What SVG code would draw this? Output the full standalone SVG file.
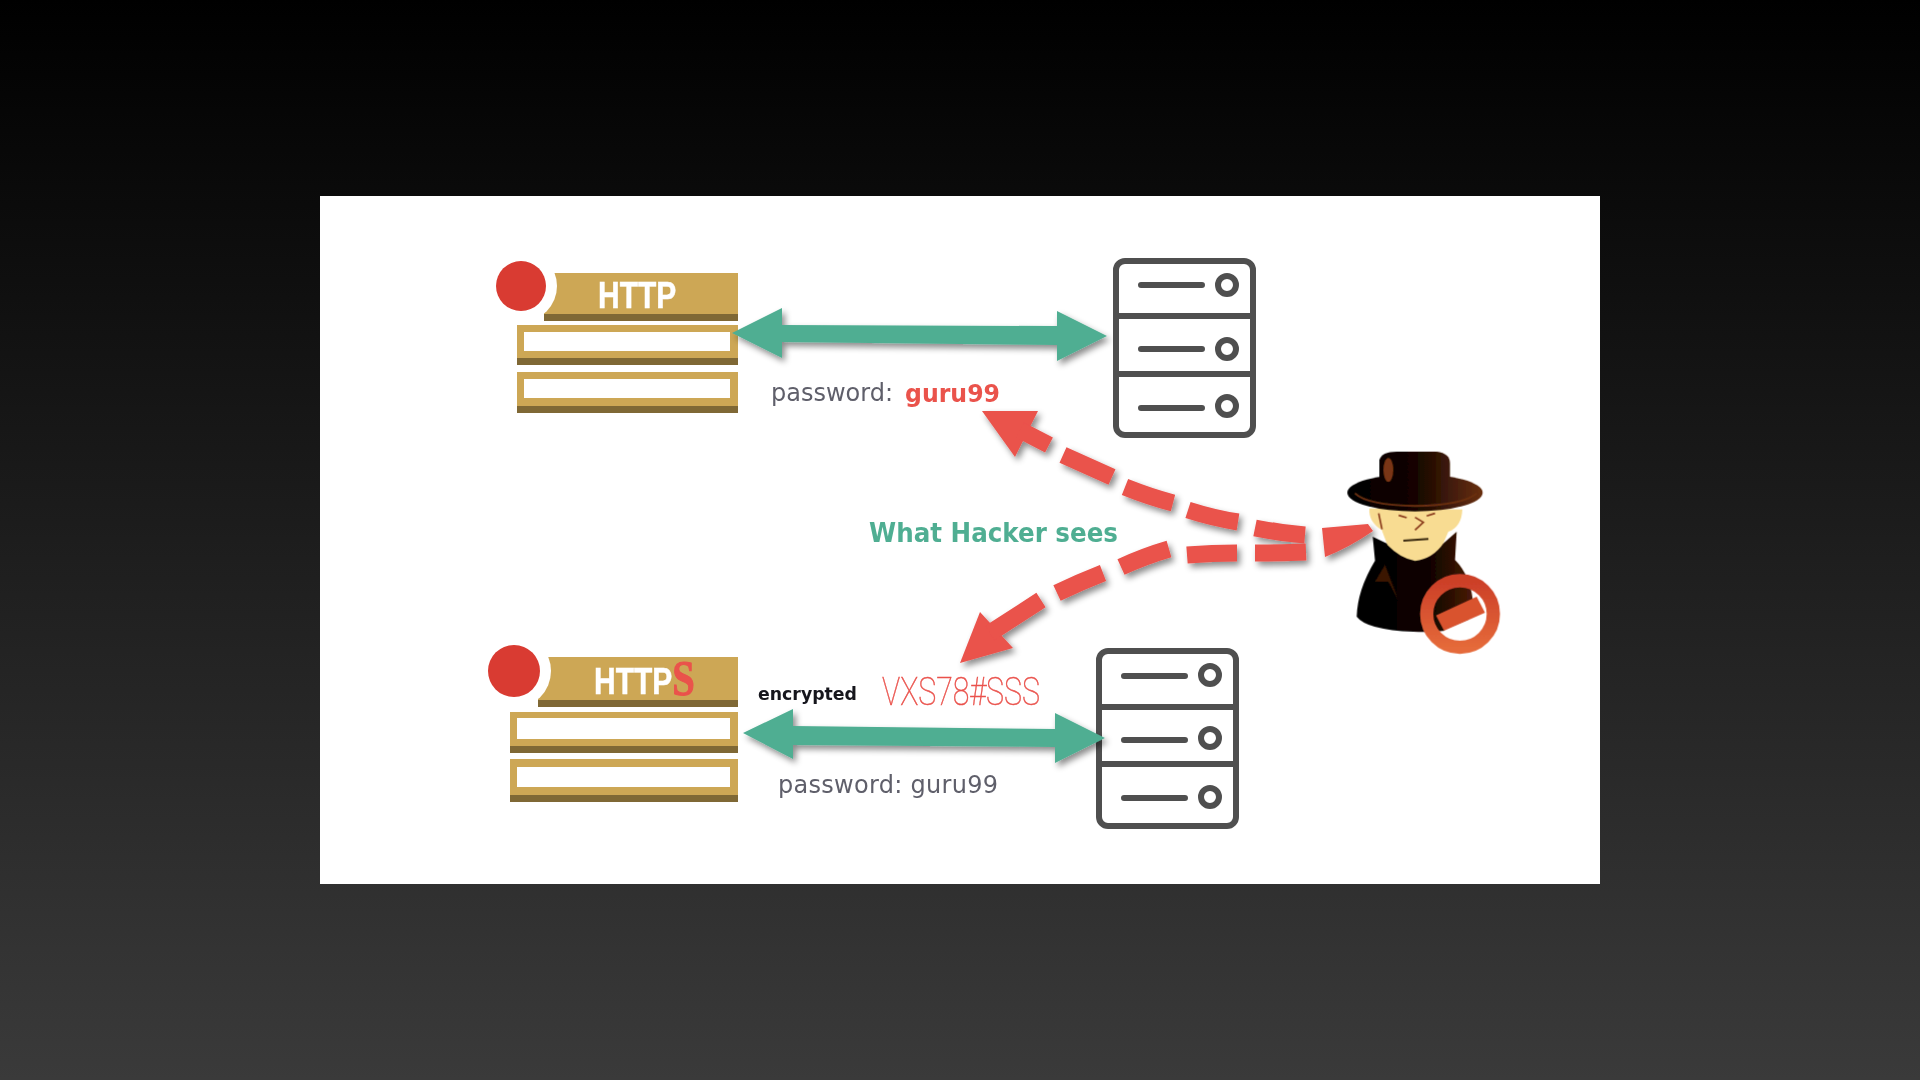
<svg xmlns="http://www.w3.org/2000/svg" width="1920" height="1080" viewBox="0 0 1920 1080">
<style>
.gold{fill:#cda755}.dark{fill:#7f6735}.hole{fill:#fff}.dot{fill:#d93a31}.halo{fill:#fff}
.srv{fill:none;stroke:#505050;stroke-width:6;stroke-linecap:round}
.tt{font-family:"Liberation Sans",Arial,sans-serif;font-weight:700;fill:#fff;stroke:#fff;stroke-width:.5;font-size:37px}
.pw{font-family:"DejaVu Sans",sans-serif;font-size:24px;fill:#5f5f6a}
.ga{fill:#4fae92;filter:url(#sh)}
.ra{fill:#ea524c}
.rd{fill:none;stroke:#ea524c;stroke-width:17}
</style>
<defs>
<linearGradient id="bg" x1="0" y1="0" x2="0" y2="1"><stop offset="0" stop-color="#000"/><stop offset="1" stop-color="#3a3a3a"/></linearGradient>
<linearGradient id="hat" gradientUnits="userSpaceOnUse" x1="140" y1="0" x2="550" y2="0"><stop offset="0" stop-color="#000"/><stop offset=".5" stop-color="#140500"/><stop offset="1" stop-color="#6a3012"/></linearGradient>
<linearGradient id="coat" x1="0" y1="0" x2="1" y2="0"><stop offset="0" stop-color="#000"/><stop offset=".6" stop-color="#0c0200"/><stop offset="1" stop-color="#4a1c08"/></linearGradient>
<linearGradient id="ring" x1="0" y1="0" x2="0" y2="1"><stop offset="0" stop-color="#cc3f28"/><stop offset="1" stop-color="#e56a3a"/></linearGradient>
<filter id="sh" x="-10%" y="-30%" width="120%" height="170%"><feDropShadow dx="3" dy="4" stdDeviation="3" flood-color="#000" flood-opacity=".45"/></filter>
<filter id="soft" filterUnits="userSpaceOnUse" x="320" y="196" width="1280" height="688"><feGaussianBlur stdDeviation=".55"/></filter>
</defs>
<rect width="1920" height="1080" fill="url(#bg)"/>
<rect x="320" y="196" width="1280" height="688" fill="#fff"/>
<g filter="url(#soft)">
<g id="http-stack">
<rect class="gold" x="544" y="273" width="194" height="42"/><rect class="dark" x="544" y="314" width="194" height="7"/>
<circle class="halo" cx="521" cy="286" r="36"/><circle class="dot" cx="521" cy="286" r="25"/>
<text class="tt" transform="matrix(.81 0 0 1 598 308)">HTTP</text>
<rect class="gold" x="517" y="325" width="221" height="34"/><rect class="dark" x="517" y="358" width="221" height="7"/><rect class="hole" x="524" y="332" width="206" height="19"/>
<rect class="gold" x="517" y="372" width="221" height="35"/><rect class="dark" x="517" y="406" width="221" height="7"/><rect class="hole" x="524" y="379" width="206" height="19"/>
</g>
<g id="https-stack">
<rect class="gold" x="538" y="657" width="200" height="44"/><rect class="dark" x="538" y="700" width="200" height="7"/>
<circle class="halo" cx="514" cy="671" r="37"/><circle class="dot" cx="514" cy="671" r="26"/>
<text class="tt" transform="matrix(.81 0 0 1 594 694)">HTTP<tspan dy="1" style="font-family:'Liberation Serif',serif;font-size:50px;fill:#ea524c;stroke:#ea524c;stroke-width:1">S</tspan></text>
<rect class="gold" x="510" y="712" width="228" height="35"/><rect class="dark" x="510" y="746" width="228" height="7"/><rect class="hole" x="517" y="718" width="213" height="21"/>
<rect class="gold" x="510" y="759" width="228" height="37"/><rect class="dark" x="510" y="795" width="228" height="7"/><rect class="hole" x="517" y="767" width="213" height="20"/>
</g>
<g id="server-top" class="srv">
<rect x="1116" y="261" width="137" height="174" rx="9"/>
<path d="M1116 316H1253M1116 374H1253M1141 285H1202M1141 349H1202M1141 408H1202"/>
<circle cx="1227" cy="285" r="9"/><circle cx="1227" cy="349" r="9"/><circle cx="1227" cy="406" r="9"/>
</g>
<g id="server-bottom" class="srv">
<rect x="1099" y="651" width="137" height="175" rx="9"/>
<path d="M1099 707H1236M1099 764H1236M1124 676H1185M1124 740H1185M1124 798H1185"/>
<circle cx="1210" cy="675" r="9"/><circle cx="1210" cy="738" r="9"/><circle cx="1210" cy="797" r="9"/>
</g>
<g id="connectors">
<path class="ga" d="M732 333L782 308V325L1057 326V311L1107 336L1057 361V345L782 342V358Z"/>
<path class="ga" d="M743 733L793 709V726L1055 729V713L1105 738L1055 763V747L793 745V759Z"/>
<g filter="url(#sh)">
<path class="ra" d="M982 411H1038L1015 457Z"/>
<path class="rd" d="M1020 430L1049 445M1063 455L1112 477M1125 487Q1150 497 1173 503M1188 510Q1213 518 1238 522M1255 528Q1280 533 1305 535"/>
<path class="ra" d="M960 663L980 612L1013 648Z"/>
<path class="rd" d="M990 633L1041 600M1057 593Q1080 582 1103 573M1121 567Q1145 556 1169 549M1187 555Q1212 553 1237 553M1255 553Q1280 553 1306 552"/>
<path class="ra" d="M1322 528L1368 524L1373 531Q1350 547 1325 557Z"/>
</g>
</g>
<g id="labels">
<text class="pw" x="771" y="401">password:</text>
<text x="905" y="402" textLength="95" lengthAdjust="spacingAndGlyphs" style="font-family:'DejaVu Sans',sans-serif;font-weight:700;font-size:25px;fill:#ea524c">guru99</text>
<text x="869" y="542" textLength="249" lengthAdjust="spacingAndGlyphs" style="font-family:'DejaVu Sans',sans-serif;font-weight:700;font-size:27px;fill:#4fae92">What Hacker sees</text>
<text x="758" y="700" textLength="99" lengthAdjust="spacingAndGlyphs" style="font-family:'DejaVu Sans',sans-serif;font-weight:700;font-size:17px;fill:#14141c">encrypted</text>
<text x="882" y="705" textLength="158" lengthAdjust="spacingAndGlyphs" stroke="#ea524c" stroke-width=".5" style="font-family:Roboto,sans-serif;font-weight:100;font-size:38px;fill:#ea524c">VXS78#SSS</text>
<text class="pw" x="778" y="793" textLength="220">password: guru99</text>
</g>
<g id="hacker" transform="translate(1300 430) scale(.3333)">
<path fill="url(#coat)" d="M170 560Q172 480 225 392L218 320L260 340L345 340L430 340L470 305L465 390Q515 440 520 530L500 590Q420 610 340 605Q200 600 170 560Z"/>
<path fill="#f8dc92" d="M208 235Q205 275 245 300L262 345Q300 385 345 393Q400 385 430 340L445 305Q485 290 487 238Z"/>
<path fill="#3a1605" d="M255 405L225 455H265L295 510Z"/>
<path fill="none" stroke="#8a3a1c" stroke-width="5" d="M236 250L246 298M296 256L320 263M380 258L405 250M345 262L370 277L345 300"/>
<path fill="none" stroke="#3a2a10" stroke-width="6" d="M310 332L385 327"/>
<ellipse cx="345" cy="188" rx="203" ry="56" fill="url(#hat)"/>
<path fill="none" stroke="#6a3012" stroke-width="6" d="M165 190Q200 225 345 228Q490 225 530 190"/>
<path fill="url(#hat)" d="M238 175V90Q245 65 290 65H410Q450 70 450 100V175Q345 210 238 175Z"/>
<ellipse cx="265" cy="120" rx="15" ry="36" fill="#7a3413"/>
<path fill="#fff" d="M432 600L555 548A78 78 0 0 1 432 600Z"/>
<circle cx="480" cy="552" r="100" fill="none" stroke="url(#ring)" stroke-width="40"/>
<path fill="#d9532f" d="M408 556L530 500L555 548L432 602Z"/>
</g>
</g>
</svg>
